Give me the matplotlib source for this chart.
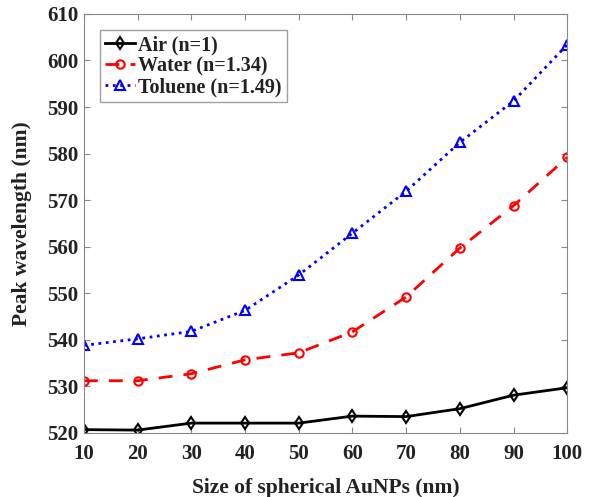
import matplotlib.pyplot as plt

# particle size (nm)
size = [10, 20, 30, 40, 50, 60, 70, 80, 90, 100]

# peak wavelength (nm) for each medium
air = [520.7, 520.6, 522.1, 522.1, 522.1, 523.6, 523.5, 525.2, 528.1, 529.7]
water = [531.2, 531.2, 532.7, 535.7, 537.2, 541.7, 549.2, 559.7, 568.8, 579.2]
toluene = [538.8, 540.2, 541.8, 546.3, 553.9, 562.9, 571.9, 582.4, 591.3, 603.4]

plt.rcParams['font.family'] = ['Liberation Serif', 'DejaVu Serif']
plt.rcParams['font.weight'] = 'bold'

fig = plt.figure(figsize=(5.99, 4.97), dpi=100)
ax = fig.add_axes([0.140, 0.129, 0.807, 0.843])

ax.plot(size, air, color='black', linestyle='-', marker='d', markersize=6,
        markerfacecolor='none', markeredgewidth=1.5, linewidth=2, label='Air (n=1)')
ax.plot(size, water, color='red', linestyle='--', marker='o', markersize=6,
        markerfacecolor='none', markeredgewidth=1.5, linewidth=2, dashes=(5, 4),
        label='Water (n=1.34)')
ax.plot(size, toluene, color='blue', linestyle=':', marker='^', markersize=7,
        markerfacecolor='none', markeredgewidth=1.5, linewidth=2, label='Toluene (n=1.49)')

ax.set_xlim(10, 100)
ax.set_ylim(520, 610)
ax.set_xticks(size)
ax.set_yticks(range(520, 611, 10))

for s in ax.spines.values():
    s.set_color('#888888')
ax.tick_params(direction='in', top=True, right=True, length=4, color='#888888',
               labelsize=15, labelcolor='#222222')
ax.tick_params(axis='x', pad=8)
ax.tick_params(axis='y', pad=4)

ax.set_xlabel('Size of spherical AuNPs (nm)', fontsize=15.5, fontweight='bold',
              color='#222222', labelpad=10)
ax.set_ylabel('Peak wavelength (nm)', fontsize=15.5, fontweight='bold',
              color='#222222', labelpad=11)

leg = ax.legend(loc='upper left', fontsize=14.5, frameon=True, fancybox=False,
                edgecolor='#888888', handlelength=1.5, borderaxespad=0.8,
                borderpad=0.25, handletextpad=0.15, labelspacing=0.05)
for t in leg.get_texts():
    t.set_color('#222222')

fig.savefig('out.png', dpi=100)
